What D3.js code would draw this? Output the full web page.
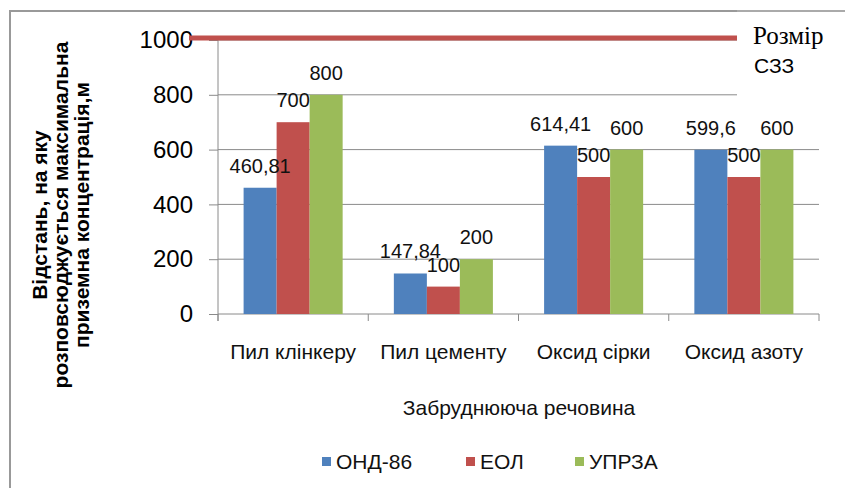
<!DOCTYPE html>
<html lang="uk">
<head>
<meta charset="UTF-8">
<title>Забруднююча речовина</title>
<script src="https://d3js.org/d3.v7.min.js"></script>
<style>
  body { margin: 0; background: #fff; }
  svg { display: block; font-family: "Liberation Sans", Arial, sans-serif; }
</style>
</head>
<body>
<div id="chart"></div>
<script>
const categories = ["Пил клінкеру", "Пил цементу", "Оксид сірки", "Оксид азоту"];
const seriesNames = ["ОНД-86", "ЕОЛ", "УПРЗА"];
const ond86 = [460.81, 147.84, 614.41, 599.6];
const eol = [700, 100, 500, 500];
const uprza = [800, 200, 600, 600];
const labelText = [
  ["460,81", "147,84", "614,41", "599,6"],
  ["700", "100", "500", "500"],
  ["800", "200", "600", "600"]
];
const yTicks = [0, 200, 400, 600, 800, 1000];
const szzValue = 1000;
const colors = ["#4F81BD", "#C0504D", "#9BBB59"];

const W = 845, H = 488;
const plot = { left: 218, right: 819, top: 40, bottom: 314 };

const svg = d3.select("#chart").append("svg")
  .attr("width", W).attr("height", H);

// outer frame
svg.append("path")
  .attr("d", `M10,${H} V11 H${W}`)
  .attr("fill", "none").attr("stroke", "#999").attr("stroke-width", 2);

const y = d3.scaleLinear().domain([0, 1000]).range([plot.bottom, plot.top]);
const x0 = d3.scaleBand().domain(categories).range([plot.left, plot.right]);
const x1 = d3.scaleBand().domain(seriesNames).range([25.6, x0.bandwidth() - 25.6]);

// gridlines
svg.append("g").selectAll("line")
  .data(yTicks.filter(t => t > 0))
  .join("line")
  .attr("x1", plot.left).attr("x2", plot.right)
  .attr("y1", d => y(d)).attr("y2", d => y(d))
  .attr("stroke", "#8a8a8a").attr("stroke-width", 1);

// y axis
const yAxis = svg.append("g")
  .attr("transform", `translate(${plot.left},0)`)
  .call(d3.axisLeft(y).tickValues(yTicks).tickFormat(d3.format("d")).tickSize(9).tickPadding(16));
yAxis.select(".domain").remove();
yAxis.selectAll(".tick line").attr("stroke", "#8a8a8a");
yAxis.selectAll(".tick text")
  .attr("font-size", 24).attr("fill", "#000")
  .attr("font-family", "Liberation Sans, Arial, sans-serif");
svg.append("line")
  .attr("x1", plot.left).attr("x2", plot.left)
  .attr("y1", plot.top).attr("y2", plot.bottom + 7)
  .attr("stroke", "#8a8a8a");

// x axis
svg.append("line")
  .attr("x1", plot.left).attr("x2", plot.right)
  .attr("y1", plot.bottom).attr("y2", plot.bottom)
  .attr("stroke", "#8a8a8a");
const bounds = categories.map(c => x0(c)).concat([plot.right]);
svg.append("g").selectAll("line").data(bounds).join("line")
  .attr("x1", d => d).attr("x2", d => d)
  .attr("y1", plot.bottom).attr("y2", plot.bottom + 7)
  .attr("stroke", "#8a8a8a");
svg.append("g").selectAll("text").data(categories).join("text")
  .attr("x", d => x0(d) + x0.bandwidth() / 2)
  .attr("y", 359)
  .attr("text-anchor", "middle")
  .attr("font-size", 21)
  .attr("fill", "#111")
  .text(d => d);

// bars
const seriesValues = [ond86, eol, uprza];
seriesValues.forEach((vals, si) => {
  const g = svg.append("g");
  g.selectAll("rect").data(vals).join("rect")
    .attr("x", (d, i) => x0(categories[i]) + x1(seriesNames[si]))
    .attr("y", d => y(d))
    .attr("width", x1.bandwidth())
    .attr("height", d => y(0) - y(d))
    .attr("fill", colors[si]);
});
seriesValues.forEach((vals, si) => {
  svg.append("g").selectAll("text").data(vals).join("text")
    .attr("x", (d, i) => x0(categories[i]) + x1(seriesNames[si]) + x1.bandwidth() / 2)
    .attr("y", d => y(d) - 15)
    .attr("text-anchor", "middle")
    .attr("font-size", 20)
    .attr("fill", "#111")
    .text((d, i) => labelText[si][i]);
});

// label box for the СЗЗ line
svg.append("rect")
  .attr("x", 737).attr("y", 12).attr("width", W - 737).attr("height", 100)
  .attr("fill", "#fff");
svg.append("line")
  .attr("x1", 737).attr("x2", W).attr("y1", 11).attr("y2", 11)
  .attr("stroke", "#bbb").attr("stroke-width", 1);

// СЗЗ line
svg.append("line")
  .attr("x1", 189).attr("x2", 737)
  .attr("y1", y(szzValue) - 2).attr("y2", y(szzValue) - 2)
  .attr("stroke", "#C0504D").attr("stroke-width", 5);
svg.append("text")
  .attr("x", 753).attr("y", 44)
  .attr("font-family", "Liberation Serif, Times New Roman, serif")
  .attr("font-size", 25)
  .text("Розмір");
svg.append("text")
  .attr("x", 754).attr("y", 73)
  .attr("font-size", 21)
  .text("СЗЗ");

// y axis title
const yTitle = ["Відстань, на яку", "розповсюджується максимальна", "приземна концентрація,м"];
svg.append("g").selectAll("text").data(yTitle).join("text")
  .attr("transform", (d, i) => `translate(${47 + i * 21},215) rotate(-90)`)
  .attr("text-anchor", "middle")
  .attr("font-size", 21)
  .attr("font-weight", "bold")
  .text(d => d);

// x axis title
svg.append("text")
  .attr("x", 519).attr("y", 415)
  .attr("text-anchor", "middle")
  .attr("font-size", 21)
  .attr("fill", "#111")
  .text("Забруднююча речовина");

// legend
const legendX = [322, 466, 575];
const legend = svg.append("g").selectAll("g").data(seriesNames).join("g")
  .attr("transform", (d, i) => `translate(${legendX[i]},457)`);
legend.append("rect")
  .attr("width", 9).attr("height", 9)
  .attr("fill", (d, i) => colors[i]);
legend.append("text")
  .attr("x", 14).attr("y", 12)
  .attr("font-size", 21)
  .attr("fill", "#111")
  .text(d => d);
</script>
</body>
</html>
